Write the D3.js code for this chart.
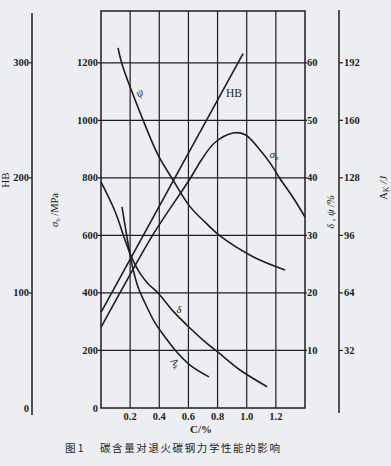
<!DOCTYPE html>
<html>
<head>
<meta charset="utf-8">
<script src="https://cdn.jsdelivr.net/npm/d3@7/dist/d3.min.js"></script>
<style>
html,body{margin:0;padding:0;background:#eceef1;}
svg{display:block;}
</style>
</head>
<body>
<svg id="chart" width="391" height="466"></svg>
<script>
// ---- tick values ----
const xTicks = [0.2, 0.4, 0.6, 0.8, 1.0, 1.2];
const xTickLabels = ["0.2", "0.4", "0.6", "0.8", "1.0", "1.2"];
const mpaTicks = [0, 200, 400, 600, 800, 1000, 1200];
const hbTicks = [0, 100, 200, 300];
const pctTicks = [10, 20, 30, 40, 50, 60];
const akTicks = [32, 64, 96, 128, 160, 192];

// ---- series (C in %, values in own units) ----
// sigma_b (MPa)
const sigmaC = [0, 0.13, 0.36, 0.61, 0.69, 0.78, 0.906, 0.99, 1.08, 1.16, 1.23, 1.32, 1.40];
const sigmaV = [280, 400, 605, 796, 863, 922, 956, 950, 904, 852, 796, 730, 664];
// HB
const hbC = [0, 0.975];
const hbV = [83, 308];
// psi (%)
const psiC = [0.117, 0.144, 0.288, 0.391, 0.49, 0.611, 0.714, 0.817, 1.043, 1.263];
const psiV = [62.6, 59.8, 50.1, 44.0, 39.8, 35.0, 32.3, 29.9, 26.3, 24.0];
// delta (%)
const deltaC = [0, 0.096, 0.165, 0.213, 0.268, 0.323, 0.391, 0.50, 0.61, 0.714, 0.803, 0.954, 1.14];
const deltaV = [39.3, 34.2, 29.2, 26.0, 23.4, 21.6, 20.0, 16.7, 13.9, 11.5, 9.7, 6.6, 3.7];
// Ak (J)
const akC = [0.144, 0.178, 0.213, 0.254, 0.302, 0.371, 0.439, 0.508, 0.611, 0.741];
const akV = [111.9, 95.2, 79.6, 67.3, 58.4, 47.3, 39.5, 32.3, 23.9, 17.3];

// ---- layout ----
const L = 101, R = 305, T = 11, B = 408;
const ink = "#1e1e22";
const serif = "'Liberation Serif','Times New Roman',serif";

const svg = d3.select("#chart");

const x = d3.scaleLinear().domain([0, 1.4]).range([L, R]);
const yM = d3.scaleLinear().domain([0, 1380]).range([B, T]);
const yHB = d3.scaleLinear().domain([0, 345]).range([B, T]);
const yP = d3.scaleLinear().domain([0, 69]).range([B, T]);
const yAk = d3.scaleLinear().domain([0, 220.8]).range([B, T]);

// grid
const g = svg.append("g");
g.selectAll("line.v").data(xTicks).join("line")
  .attr("x1", d => x(d)).attr("x2", d => x(d))
  .attr("y1", T).attr("y2", B)
  .attr("stroke", ink).attr("stroke-width", 1.2);
g.selectAll("line.h").data(mpaTicks.filter(d => d > 0)).join("line")
  .attr("x1", L - 3).attr("x2", R + 2)
  .attr("y1", d => yM(d)).attr("y2", d => yM(d))
  .attr("stroke", ink).attr("stroke-width", 1.2);
// frame
svg.append("rect").attr("x", L).attr("y", T).attr("width", R - L).attr("height", B - T)
  .attr("fill", "none").attr("stroke", ink).attr("stroke-width", 1.5);

// left MPa labels
svg.append("g").selectAll("text").data(mpaTicks).join("text")
  .attr("x", L - 3).attr("y", d => yM(d) + 3.5)
  .attr("text-anchor", "end").attr("font-family", serif).attr("font-size", 10.5)
  .attr("font-weight", "bold").attr("fill", ink).text(d => d);

// x labels
svg.append("g").selectAll("text").data(xTicks).join("text")
  .attr("x", d => x(d)).attr("y", 420)
  .attr("text-anchor", "middle").attr("font-family", serif).attr("font-size", 10.5)
  .attr("font-weight", "bold").attr("fill", ink).text((d, i) => xTickLabels[i]);
svg.append("text").attr("x", 201).attr("y", 433).attr("text-anchor", "middle")
  .attr("font-family", serif).attr("font-size", 11).attr("font-weight", "bold")
  .attr("fill", ink).text("C/%");

// right % labels
svg.append("g").selectAll("text").data(pctTicks).join("text")
  .attr("x", R + 2).attr("y", d => yP(d) + 3.5)
  .attr("font-family", serif).attr("font-size", 10.5)
  .attr("font-weight", "bold").attr("fill", ink).text(d => d);

// HB axis
const hbX = 32;
svg.append("line").attr("x1", hbX).attr("x2", hbX).attr("y1", 13).attr("y2", 415)
  .attr("stroke", ink).attr("stroke-width", 1.5);
svg.append("g").selectAll("line").data(hbTicks.filter(d => d > 0)).join("line")
  .attr("x1", hbX - 3).attr("x2", hbX).attr("y1", d => yHB(d)).attr("y2", d => yHB(d))
  .attr("stroke", ink).attr("stroke-width", 1.2);
svg.append("g").selectAll("text").data(hbTicks).join("text")
  .attr("x", hbX - 3).attr("y", d => yHB(d) + 3.5)
  .attr("text-anchor", "end").attr("font-family", serif).attr("font-size", 10.5)
  .attr("font-weight", "bold").attr("fill", ink).text(d => d);
svg.append("text").attr("transform", "translate(9,180) rotate(-90)")
  .attr("text-anchor", "middle").attr("font-family", serif).attr("font-size", 11)
  .attr("fill", ink).text("HB");

// sigma_b / MPa axis title
const st = svg.append("text").attr("transform", "translate(58,210) rotate(-90)")
  .attr("text-anchor", "middle").attr("font-family", serif).attr("font-size", 10.5)
  .attr("fill", ink);
st.append("tspan").attr("font-style", "italic").text("σ");
st.append("tspan").attr("font-size", 7).attr("dy", 2).text("b");
st.append("tspan").attr("dy", -2).text(" /MPa");

// delta, psi / % title
svg.append("text").attr("transform", "translate(334,212) rotate(-90)")
  .attr("text-anchor", "middle").attr("font-family", serif).attr("font-size", 10.5)
  .attr("font-style", "italic").attr("fill", ink).text("δ , ψ /%");

// Ak axis
const akX = 339;
svg.append("line").attr("x1", akX).attr("x2", akX).attr("y1", 10).attr("y2", 413)
  .attr("stroke", ink).attr("stroke-width", 1.5);
svg.append("g").selectAll("line").data(akTicks).join("line")
  .attr("x1", akX).attr("x2", akX + 4).attr("y1", d => yAk(d)).attr("y2", d => yAk(d))
  .attr("stroke", ink).attr("stroke-width", 1.2);
svg.append("g").selectAll("text").data(akTicks).join("text")
  .attr("x", akX + 5).attr("y", d => yAk(d) + 3.5)
  .attr("font-family", serif).attr("font-size", 10.5)
  .attr("font-weight", "bold").attr("fill", ink).text(d => d);
const at = svg.append("text").attr("transform", "translate(387,188) rotate(-90)")
  .attr("text-anchor", "middle").attr("font-family", serif).attr("font-size", 11)
  .attr("fill", ink);
at.append("tspan").text("A");
at.append("tspan").attr("font-size", 7.5).attr("dy", 2).text("K");
at.append("tspan").attr("dy", -2).attr("font-style", "italic").text(" /J");

// curves
function drawCurve(cs, vs, yS, curve) {
  const pts = cs.map((c, i) => [x(c), yS(vs[i])]);
  svg.append("path").attr("d", d3.line().curve(curve)(pts))
    .attr("fill", "none").attr("stroke", ink).attr("stroke-width", 1.6);
}
drawCurve(sigmaC, sigmaV, yM, d3.curveCatmullRom.alpha(0.5));
drawCurve(hbC, hbV, yHB, d3.curveLinear);
drawCurve(psiC, psiV, yP, d3.curveCatmullRom.alpha(0.5));
drawCurve(deltaC, deltaV, yP, d3.curveCatmullRom.alpha(0.5));
drawCurve(akC, akV, yAk, d3.curveCatmullRom.alpha(0.5));

// curve labels
function lab(px, py, txt, opts = {}) {
  const t = svg.append("text").attr("x", px).attr("y", py)
    .attr("font-family", serif).attr("font-size", opts.size || 11)
    .attr("fill", ink).attr("text-anchor", "middle");
  if (opts.italic) t.attr("font-style", "italic");
  if (opts.rot) t.attr("transform", `rotate(${opts.rot},${px},${py})`);
  if (txt) t.text(txt);
  return t;
}
lab(141, 96, "ψ", {italic: true, rot: -25});
lab(234, 97, "HB", {size: 11.5});
const sl = lab(274, 158, "", {italic: true, size: 10.5});
sl.append("tspan").text("σ");
sl.append("tspan").attr("font-size", 7).attr("dy", 2).text("b");
lab(179, 313, "δ", {italic: true, size: 10.5});
const al = lab(173, 365, "", {italic: true, size: 10, rot: 50});
al.append("tspan").text("A");
al.append("tspan").attr("font-size", 7).attr("dy", 2).text("k");

// caption
svg.append("text").attr("x", 65).attr("y", 452).attr("font-family", "'Noto Sans CJK SC',sans-serif")
  .attr("font-size", 10.5).attr("fill", ink).text("图 1");
svg.append("text").attr("x", 100).attr("y", 452).attr("font-family", "'Noto Sans CJK SC',sans-serif")
  .attr("font-size", 10.5).attr("letter-spacing", 1.6).attr("fill", ink)
  .text("碳含量对退火碳钢力学性能的影响");
</script>
</body>
</html>
